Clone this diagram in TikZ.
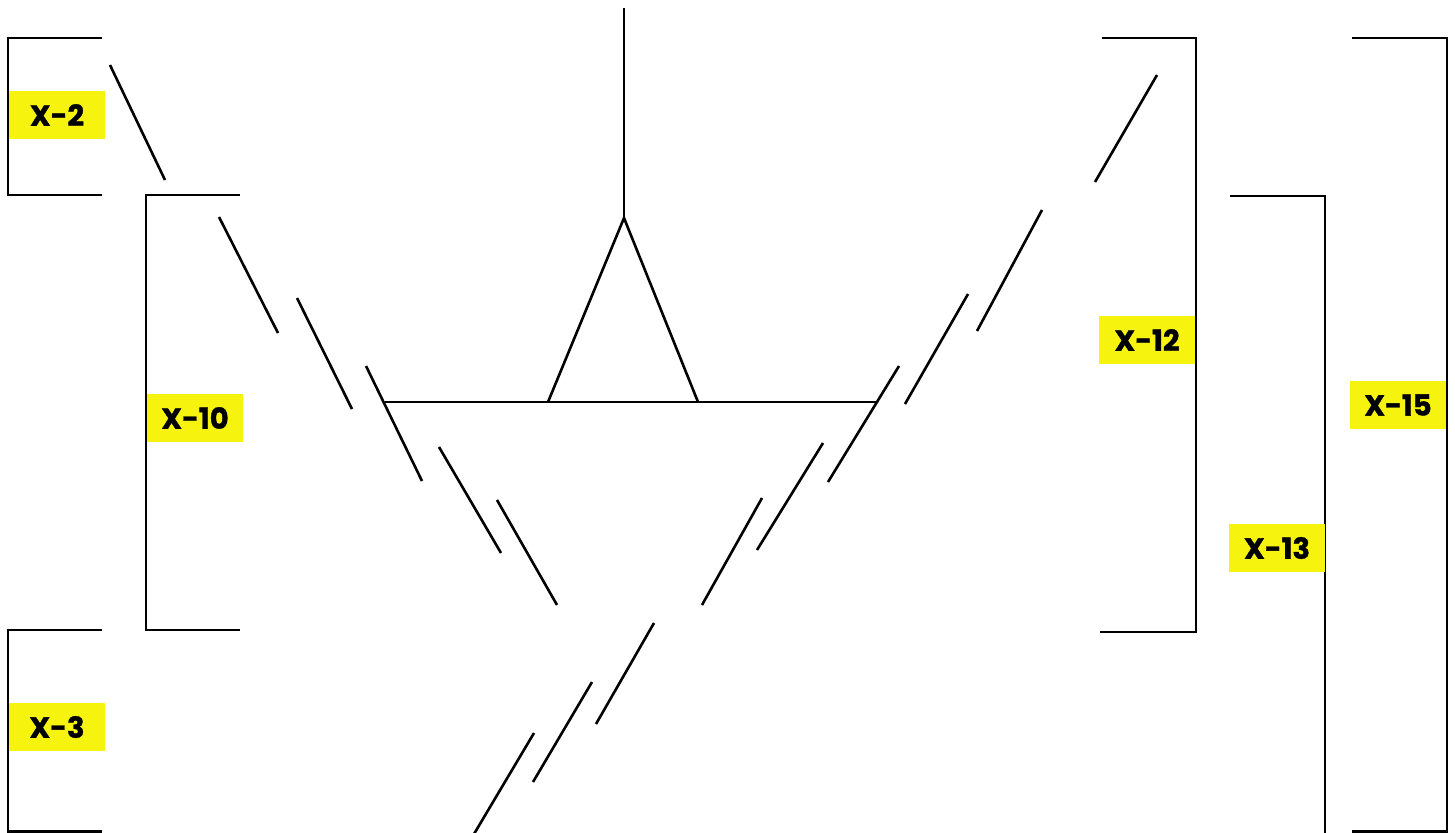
\documentclass[tikz,border=0pt]{standalone}
\usepackage{fontspec}
\usepackage{xcolor}
\newfontfamily\tagfont{Poppins}[BoldFeatures={FakeBold=1.2}]
\usetikzlibrary{positioning}
\definecolor{tagyellow}{RGB}{246,244,14}

\begin{document}
\begin{tikzpicture}[
    x=1pt,y=-1pt,
    tag/.style={rectangle,fill=tagyellow,minimum width=96pt,minimum height=48pt,inner sep=0pt,font=\tagfont\bfseries\fontsize{29}{29}\selectfont},
    bracket/.style={line width=2.6pt,line join=miter},
    bond/.style={line width=2.6pt}
]
    \useasboundingbox (0,0) rectangle (1455,832);

    % Brackets
    \draw[bracket] (102,38) -- (8,38) -- (8,195) -- (102,195);
    \draw[bracket] (240,195) -- (146,195) -- (146,630) -- (240,630);
    \draw[bracket] (102,630) -- (8,630) -- (8,831.5) -- (102,831.5);
    \draw[bracket] (1102,38) -- (1196,38) -- (1196,632) -- (1100,632);
    \draw[bracket] (1230,196) -- (1325,196) -- (1325,840);
    \draw[bracket] (1352,38) -- (1447,38) -- (1447,831.5) -- (1352,831.5);

    % Labels
    \node[tag] (x2) at (57,115) {X-2};
    \node[tag] (x10) at (195,418) {X-10};
    \node[tag] (x3) at (57,727) {X-3};
    \node[tag] (x12) at (1147,340) {X-12};
    \node[tag] (x13) at (1277,548) {X-13};
    \node[tag] (x15) at (1398,405) {X-15};

    % Core
    \draw[bond] (624,8) -- (624,218);
    \draw[bond,line join=miter] (548,402) -- (624,218) -- (698,402);
    \draw[bond] (385,402) -- (877,402);

    % Left strand
    \draw[bond] (110,65) -- (165,180);
    \draw[bond] (219,217) -- (278,333);
    \draw[bond] (297,298) -- (352,409);
    \draw[bond] (366,366) -- (422,481);
    \draw[bond] (439,447) -- (501,553);
    \draw[bond] (497,500) -- (557,605);

    % Right strand
    \draw[bond] (1157,75) -- (1095,182);
    \draw[bond] (1042,210) -- (977,331);
    \draw[bond] (968,294) -- (905,404);
    \draw[bond] (899,366) -- (828,482);
    \draw[bond] (823,443) -- (757,550);
    \draw[bond] (762,498) -- (702,605);
    \draw[bond] (654,623) -- (596,724);
    \draw[bond] (592,682) -- (533,782);
    \draw[bond] (534,733) -- (474,834);
\end{tikzpicture}
\end{document}
